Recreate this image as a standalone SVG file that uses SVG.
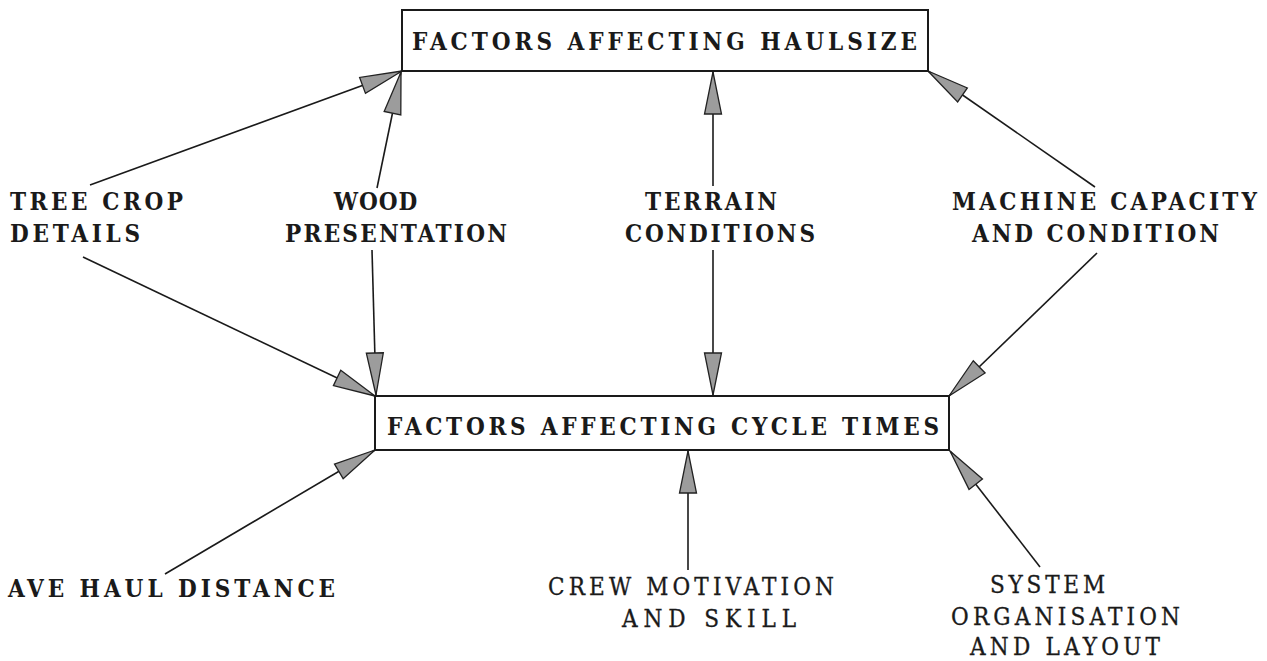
<svg xmlns="http://www.w3.org/2000/svg" width="1267" height="661" viewBox="0 0 1267 661">
<style>
  .box { fill: #ffffff; stroke: #1a1a1a; stroke-width: 2; }
  .t { font-family: "DejaVu Serif Condensed", "DejaVu Serif", "Liberation Serif", serif; font-stretch: condensed; font-size: 24px; fill: #1a1a1a; font-weight: bold; }
  .tl { font-family: "DejaVu Serif Condensed", "DejaVu Serif", "Liberation Serif", serif; font-stretch: condensed; font-size: 24px; fill: #1a1a1a; stroke: #1a1a1a; stroke-width: 0.3; }
  .c { stroke: #1a1a1a; stroke-width: 1.6; fill: none; marker-end: url(#ah); }
</style>
<defs>
  <marker id="ah" markerUnits="userSpaceOnUse" markerWidth="46" markerHeight="22" viewBox="0 0 46 22" refX="44" refY="11" orient="auto">
    <path d="M44,11 L2,2.5 L2,19.5 Z" fill="#9c9c9c" stroke="#222222" stroke-width="1.3" stroke-linejoin="miter"/>
  </marker>
</defs>
<rect width="1267" height="661" fill="#ffffff"/>

<g id="connectors">
  <line class="c" x1="90" y1="185" x2="402" y2="71"/>
  <line class="c" x1="377" y1="188" x2="401" y2="72"/>
  <line class="c" x1="713" y1="186" x2="713" y2="72"/>
  <line class="c" x1="1095" y1="187" x2="928" y2="71"/>
  <line class="c" x1="83" y1="257" x2="375" y2="396"/>
  <line class="c" x1="372" y1="250" x2="376" y2="395"/>
  <line class="c" x1="713" y1="250" x2="713" y2="395"/>
  <line class="c" x1="1097" y1="253" x2="949" y2="396"/>
  <line class="c" x1="165" y1="574" x2="375" y2="450"/>
  <line class="c" x1="688" y1="570" x2="688" y2="451"/>
  <line class="c" x1="1040" y1="567" x2="950" y2="451"/>
</g>

<g id="haulsize">
  <rect class="box" x="402" y="10" width="526" height="61"/>
  <text class="t" x="412" y="50" textLength="505" lengthAdjust="spacing">FACTORS AFFECTING HAULSIZE</text>
</g>

<g id="cycletimes">
  <rect class="box" x="375" y="396" width="574" height="54"/>
  <text class="t" x="387" y="435" textLength="552" lengthAdjust="spacing">FACTORS AFFECTING CYCLE TIMES</text>
</g>

<g id="treecrop">
  <text class="t" x="10" y="210" textLength="173" lengthAdjust="spacing">TREE CROP</text>
  <text class="t" x="10" y="242" textLength="130" lengthAdjust="spacing">DETAILS</text>
</g>

<g id="wood">
  <text class="t" x="376" y="210" text-anchor="middle" letter-spacing="1">WOOD</text>
  <text class="t" x="285" y="242" textLength="222" lengthAdjust="spacing">PRESENTATION</text>
</g>

<g id="terrain">
  <text class="t" x="645" y="210" textLength="132" lengthAdjust="spacing">TERRAIN</text>
  <text class="t" x="625" y="242" textLength="190" lengthAdjust="spacing">CONDITIONS</text>
</g>

<g id="machine">
  <text class="t" x="952" y="210" textLength="305" lengthAdjust="spacing">MACHINE CAPACITY</text>
  <text class="t" x="972" y="242" textLength="247" lengthAdjust="spacing">AND CONDITION</text>
</g>

<g id="avehaul">
  <text class="t" x="8" y="597" textLength="327" lengthAdjust="spacing">AVE HAUL DISTANCE</text>
</g>

<g id="crew">
  <text class="tl" x="548" y="595" textLength="286" lengthAdjust="spacing">CREW MOTIVATION</text>
  <text class="tl" x="622" y="627" textLength="174" lengthAdjust="spacing">AND SKILL</text>
</g>

<g id="system">
  <text class="tl" x="990" y="593" textLength="115" lengthAdjust="spacing">SYSTEM</text>
  <text class="tl" x="951" y="625" textLength="229" lengthAdjust="spacing">ORGANISATION</text>
  <text class="tl" x="970" y="655" textLength="190" lengthAdjust="spacing">AND LAYOUT</text>
</g>
</svg>
